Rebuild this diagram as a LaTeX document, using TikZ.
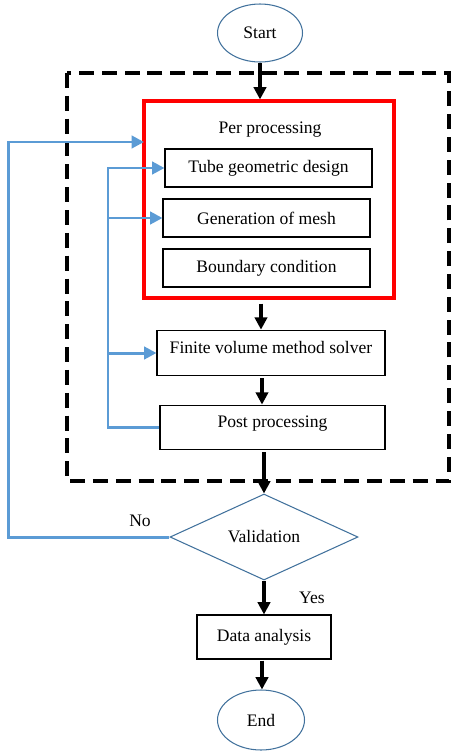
\documentclass[tikz,border=0pt]{standalone}
\usepackage{fontspec}
\setmainfont{Liberation Serif}
\usepackage{tikz}
\usetikzlibrary{arrows.meta, shapes.geometric, positioning, calc}
\definecolor{LineBlue}{RGB}{91,155,213}
\definecolor{EdgeBlue}{RGB}{65,113,156}

\begin{document}
\begin{tikzpicture}[x=0.02cm,y=-0.02cm,
        font=\fontsize{10}{12}\selectfont,
        box/.style={draw=black,line width=0.6pt,minimum height=0.76cm,inner sep=2pt},
        term/.style={ellipse,draw=EdgeBlue,line width=0.6pt,minimum width=1.7cm,minimum height=1.16cm,inner sep=0pt},
        arr/.style={-{Triangle[length=7pt,width=7pt]},line width=1.8pt,black},
        fb/.style={-{Triangle[length=7pt,width=7pt]},line width=1.7pt,LineBlue}
      ]
        \useasboundingbox (0,0) rectangle (461,751);
        % outer dashed frame and pre-processing block
        \draw[line width=2pt,dash pattern=on 8.5pt off 4.5pt] (67,73) rectangle (449,481);
        \node[draw=red,line width=1.8pt,minimum width=5cm,minimum height=3.94cm,inner sep=0pt] (pre) at (269,199.5) {};
        \node (pretxt) at (270,130) {Per processing};
        \node[term] (start) at (260,33) {Start};
        \node[box,minimum width=4.14cm] (tube) at (268.5,168) {Tube geometric design};
        \node[box,minimum width=4.14cm] (mesh) at (266.5,218) {Generation of mesh};
        \node[box,minimum width=4.14cm] (bc) at (266.5,268) {Boundary condition};
        \node[box,minimum width=4.56cm,text height=11pt,text depth=11pt] (fv) at (271,353) {Finite volume method solver};
        \node[box,minimum width=4.5cm,text height=11pt,text depth=10.5pt] (post) at (272.5,427.5) {Post processing};
        \node[diamond,draw=EdgeBlue,line width=0.6pt,minimum width=3.76cm,minimum height=1.72cm,inner sep=0pt] (val) at (264,537) {Validation};
        \node[box,minimum width=2.68cm,minimum height=0.88cm] (data) at (264,637) {Data analysis};
        \node[term,minimum width=1.74cm,minimum height=1.2cm] (fin) at (261,720) {End};
        \node (no) at (140,521) {No};
        \node (yes) at (312,598) {Yes};
        % main flow
        \draw[arr] (start) -- (start |- pre.north);
        \draw[arr] ($(pre.south)+(-8,4)$) -- ($(fv.north)+(-10,0)$);
        \draw[arr] ($(fv.south)+(-9,2)$) -- ($(post.north)+(-10.5,0)$);
        \draw[arr] ($(post.south)+(-8.5,2)$) -- (val.north);
        \draw[arr] (val.south) -- (data.north);
        \draw[arr] ($(data.south)+(-2,1)$) -- ($(fin.north)+(1,0)$);
        % feedback loops
        \coordinate (lx) at (108,0);
        \coordinate (fbin) at (144,142);
        \draw[fb] (val.west) -- ++(-161,0) |- (fbin);
        \draw[fb] (post.west) -- (post.west -| lx) |- (tube.west);
        \draw[fb] (lx |- mesh.west) -- (mesh.west);
        \draw[fb] (lx |- fv.west) -- (fv.west);
      \end{tikzpicture}
\end{document}
